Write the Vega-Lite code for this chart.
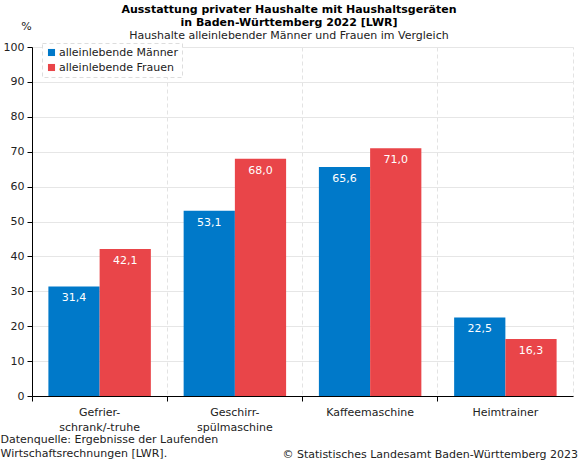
{
  "$schema": "https://vega.github.io/schema/vega-lite/v6.json",
  "width": 541,
  "height": 349,
  "padding": {"left": 0, "right": 2, "top": 4, "bottom": 0},
  "config": {
    "font": "DejaVu Sans",
    "locale": {"number": {"decimal": ",", "thousands": ".", "grouping": [3], "currency": ["", " €"]}},
    "view": {"stroke": "#e3e3e3", "strokeDash": [4, 3]},
    "legend": {"strokeDash": [4, 3]},
    "axis": {
      "labelFontSize": 11,
      "labelColor": "#222",
      "domainColor": "black",
      "tickColor": "black",
      "tickSize": 5,
      "titleFontWeight": "normal",
      "titleFontSize": 11,
      "titleColor": "#222"
    }
  },
  "title": {
    "text": ["Ausstattung privater Haushalte mit Haushaltsgeräten", "in Baden-Württemberg 2022 [LWR]"],
    "subtitle": "Haushalte alleinlebender Männer und Frauen im Vergleich",
    "anchor": "middle",
    "frame": "bounds",
    "fontSize": 11,
    "fontWeight": "bold",
    "lineHeight": 13,
    "color": "black",
    "subtitleFontSize": 11,
    "subtitleColor": "#222",
    "subtitlePadding": 2,
    "offset": -21
  },
  "data": {
    "values": [
      {"geraet": "Gefrierschrank/-truhe", "gruppe": "alleinlebende Männer", "anteil": 31.4},
      {"geraet": "Gefrierschrank/-truhe", "gruppe": "alleinlebende Frauen", "anteil": 42.1},
      {"geraet": "Geschirrspülmaschine", "gruppe": "alleinlebende Männer", "anteil": 53.1},
      {"geraet": "Geschirrspülmaschine", "gruppe": "alleinlebende Frauen", "anteil": 68.0},
      {"geraet": "Kaffeemaschine", "gruppe": "alleinlebende Männer", "anteil": 65.6},
      {"geraet": "Kaffeemaschine", "gruppe": "alleinlebende Frauen", "anteil": 71.0},
      {"geraet": "Heimtrainer", "gruppe": "alleinlebende Männer", "anteil": 22.5},
      {"geraet": "Heimtrainer", "gruppe": "alleinlebende Frauen", "anteil": 16.3}
    ]
  },
  "encoding": {
    "x": {
      "field": "geraet",
      "type": "nominal",
      "sort": null,
      "scale": {"paddingInner": 0, "paddingOuter": 0},
      "title": ["Datenquelle: Ergebnisse der Laufenden", "Wirtschaftsrechnungen [LWR]."],
      "axis": {
        "labelAngle": 0,
        "bandPosition": 0,
        "labelPadding": 5,
        "labelLineHeight": 15,
        "labelBaseline": "top",
        "labelExpr": "datum.label == 'Gefrierschrank/-truhe' ? ['Gefrier-', 'schrank/-truhe'] : datum.label == 'Geschirrspülmaschine' ? ['Geschirr-', 'spülmaschine'] : datum.label",
        "grid": true,
        "gridColor": "#e3e3e3",
        "gridDash": [4, 3],
        "titleAnchor": "start",
        "titleAlign": "left",
        "titleBaseline": "top",
        "titleX": -32,
        "titleY": 37,
        "titleLineHeight": 14
      }
    },
    "y": {
      "field": "anteil",
      "type": "quantitative",
      "scale": {"domain": [0, 100], "nice": false},
      "title": "%",
      "axis": {
        "tickCount": 10,
        "grid": true,
        "gridColor": "#e6e6e6",
        "labelPadding": 3,
        "titleAngle": 0,
        "titleAlign": "center",
        "titleBaseline": "middle",
        "titleX": -6,
        "titleY": -21
      }
    }
  },
  "layer": [
    {
      "mark": {"type": "bar"},
      "encoding": {
        "xOffset": {
          "field": "gruppe",
          "type": "nominal",
          "sort": null,
          "scale": {"paddingInner": 0, "paddingOuter": 0.32}
        },
        "color": {
          "field": "gruppe",
          "type": "nominal",
          "scale": {"domain": ["alleinlebende Männer", "alleinlebende Frauen"], "range": ["#0079c9", "#e94549"]},
          "title": null,
          "legend": {
            "orient": "none",
            "legendX": 10,
            "legendY": -4,
            "symbolType": "square",
            "symbolSize": 50,
            "symbolStrokeWidth": 0,
            "labelFontSize": 11,
            "labelColor": "#222",
            "labelOffset": 2,
            "rowPadding": 3,
            "padding": 4,
            "strokeColor": "#dddddd",
            "fillColor": "white"
          }
        }
      }
    },
    {
      "mark": {"type": "text", "color": "white", "fontSize": 11, "baseline": "middle", "dy": 12},
      "encoding": {
        "xOffset": {"field": "gruppe", "type": "nominal", "sort": null},
        "text": {"field": "anteil", "type": "quantitative", "format": ".1f"}
      }
    },
    {
      "mark": {"type": "text", "align": "right", "baseline": "middle", "fontSize": 11, "color": "#222", "dx": 5},
      "encoding": {
        "x": {"datum": "Heimtrainer", "bandPosition": 1},
        "y": {"datum": -16.9},
        "text": {"value": "© Statistisches Landesamt Baden-Württemberg 2023"}
      },
      "transform": [{"filter": "datum.geraet == 'Heimtrainer' && datum.gruppe == 'alleinlebende Männer'"}]
    }
  ]
}
